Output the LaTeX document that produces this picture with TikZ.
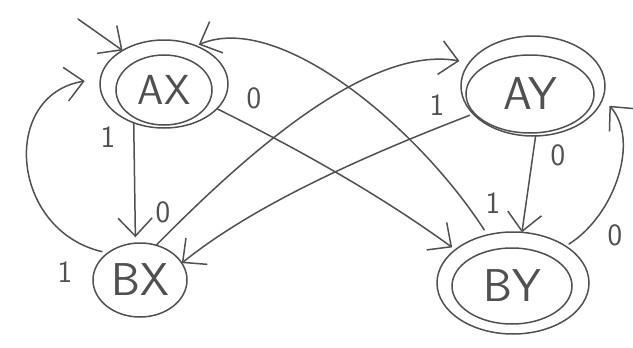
\documentclass[tikz,border=0pt]{standalone}
\usetikzlibrary{arrows.meta,shapes.geometric}
\definecolor{pencil}{HTML}{505050}
\begin{document}
\begin{tikzpicture}[x=1pt,y=-1pt,line width=1.5pt,color=pencil,
  ring/.style={ellipse,draw,inner sep=0pt,outer sep=0pt},
  statetxt/.style={ring,font=\sffamily\fontsize{46}{46}\selectfont},
  lbl/.style={font=\sffamily\fontsize{31}{31}\selectfont,inner sep=0pt},
  edge/.style={-{Straight Barb[length=18pt 0 0,width=34pt 0 0]},line cap=round,line join=round}]
\useasboundingbox (0,0) rectangle (633,348);
% states
\node[ring,minimum width=128pt,minimum height=88pt] (AX) at (164,84) {};
\node[statetxt,minimum width=96pt,minimum height=70pt,font=\sffamily\fontsize{42}{42}\selectfont] (AXi) at (164,90) {AX};
\node[ring,minimum width=144pt,minimum height=100pt] (AY) at (533,86) {};
\node[statetxt,minimum width=128pt,minimum height=78pt] (AYi) at (530,94) {AY};
\node[statetxt,minimum width=94pt,minimum height=74pt] (BX) at (140,280) {BX};
\node[ring,minimum width=152pt,minimum height=102pt] (BY) at (513,283) {};
\node[statetxt,minimum width=120pt,minimum height=76pt] (BYi) at (512,286) {BY};
\coordinate (start) at (78,19);
% edges
\draw[edge] (start) -- (AX.141);
\draw[edge,shorten >=6pt] (AX.-128) -- (BX.97);
\draw[edge,shorten <=6pt,shorten >=16pt] (BX.140) .. controls (10,230) and (0,95) .. (AX.175);
\draw[edge,shorten >=4pt] (AX.-25) .. controls (300,150) and (380,195) .. (BY.150);
\draw[edge,shorten >=10pt] (BX.65) .. controls (250,150) and (370,45) .. (AY.160);
\draw[edge,shorten <=4pt] (AY.-155) .. controls (380,150) and (260,200) .. (BX.22);
\draw[edge] (AY.-87) -- (BY.80);
\draw[edge,shorten <=4pt,shorten >=10pt] (BY.35) .. controls (615,215) and (640,140) .. (AY.-10);
\draw[edge,shorten <=6pt,shorten >=3pt] (BY.118) .. controls (420,130) and (280,10) .. (AX.50);
% labels
\node[lbl] (l1) at (108,137) {1};
\node[lbl] (l2) at (254,98) {0};
\node[lbl] (l3) at (65,272) {1};
\node[lbl] (l4) at (163,212) {0};
\node[lbl] (l5) at (437,105) {1};
\node[lbl] (l6) at (558,155) {0};
\node[lbl] (l7) at (615,235) {0};
\node[lbl] (l8) at (493,203) {1};
\end{tikzpicture}
\end{document}
